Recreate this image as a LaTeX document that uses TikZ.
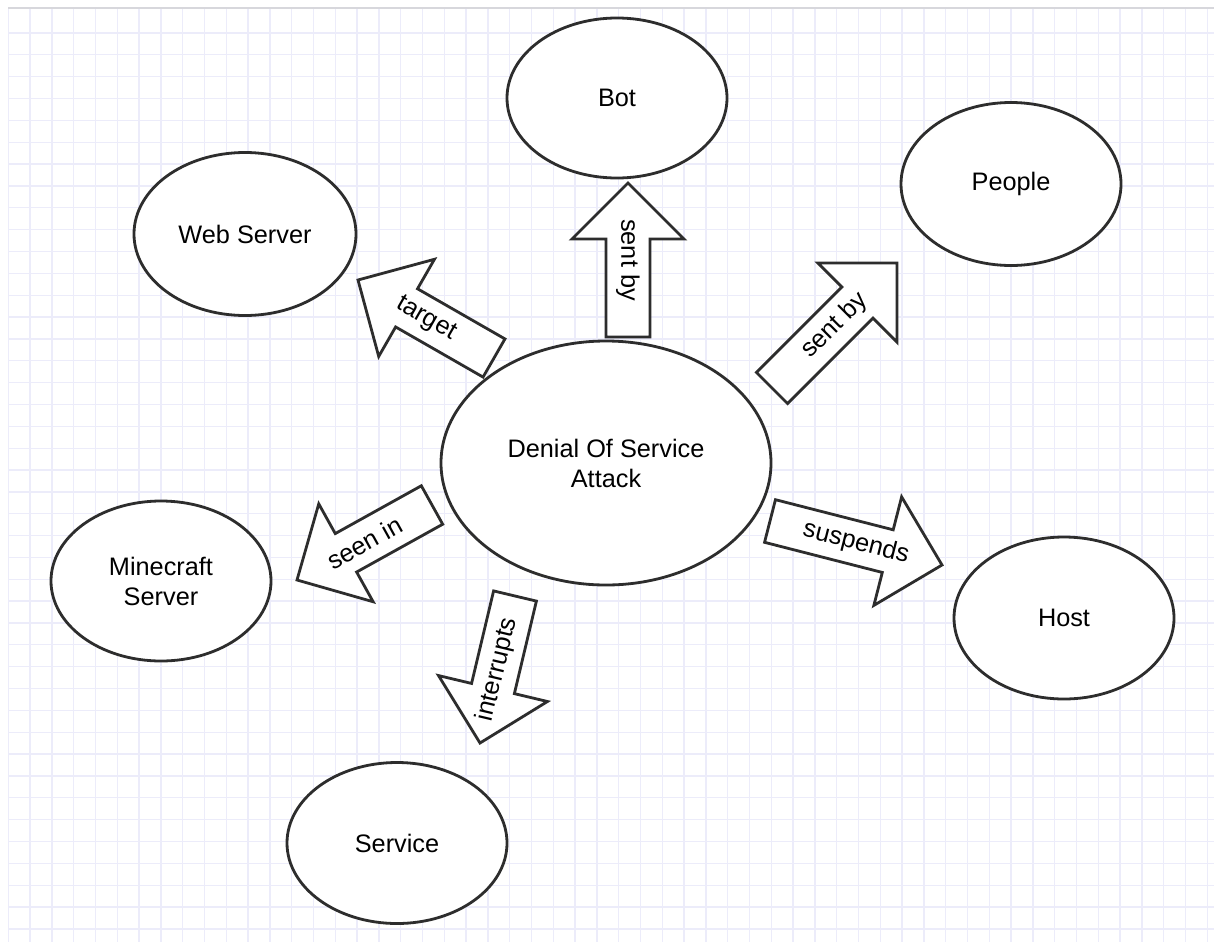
\documentclass[tikz,border=0pt]{standalone}
\usepackage{fontspec}
\setmainfont{Liberation Sans}
\usetikzlibrary{shapes.geometric,calc}

\definecolor{gridc}{RGB}{236,236,250}
\definecolor{framec}{RGB}{215,215,220}
\definecolor{inkc}{RGB}{45,45,45}

% Block arrow from tail #1 to tip #2, label #3 turned by #4 degrees
\newcommand{\blockarrow}[4]{%
  \coordinate (hb) at ($(#2)!56pt!(#1)$);
  \draw[barrow]
    ($(#1)!22pt!90:(#2)$) -- ($(hb)!22pt!90:(#2)$) -- ($(hb)!56pt!90:(#2)$)
    -- (#2)
    -- ($(hb)!56pt!-90:(#2)$) -- ($(hb)!22pt!-90:(#2)$) -- ($(#1)!22pt!-90:(#2)$)
    -- cycle;
  \node[lbl, rotate=#4] at ($(#1)!0.5!(#2)$) {#3};
}

\tikzset{
  gridline/.style={draw=gridc, line width=1.3pt},
  entity/.style={ellipse, draw=inkc, line width=2.8pt, fill=white, inner sep=0pt,
    align=center, font=\fontsize{25.3}{30}\selectfont},
  barrow/.style={draw=inkc, line width=2.8pt, fill=white, line join=miter},
  lbl/.style={inner sep=0pt, font=\fontsize{25.3}{30}\selectfont},
}

\begin{document}
\begin{tikzpicture}[x=1pt,y=-1pt]
\useasboundingbox (0,0) rectangle (1214,942);
\fill[white] (0,0) rectangle (1214,942);

% squared paper
\foreach \i in {0,...,55}
  \draw[gridline] ({8.3+21.8*\i},8) -- ({8.3+21.8*\i},942);
\foreach \j in {0,...,41}
  \draw[gridline] (8,{33+21.85*\j}) -- (1214,{33+21.85*\j});
\draw[draw=framec, line width=1.5pt] (8,8) -- (1214,8);

% concepts
\node[entity, minimum width=330pt, minimum height=244pt] (dos) at (606,463) {Denial Of Service\\Attack};
\node[entity, minimum width=220pt, minimum height=160pt] (bot) at (617,98) {Bot};
\node[entity, minimum width=220pt, minimum height=163pt] (people) at (1011,184) {People};
\node[entity, minimum width=222pt, minimum height=163pt] (web) at (245,234) {Web Server};
\node[entity, minimum width=220pt, minimum height=160pt] (mc) at (161,581) {Minecraft\\Server};
\node[entity, minimum width=220pt, minimum height=162pt] (host) at (1064,618) {Host};
\node[entity, minimum width=220pt, minimum height=161pt] (service) at (397,843) {Service};

% arrow ends
\coordinate (botS) at (628,337);  \coordinate (botE) at (628,183);
\coordinate (webS) at (494,358);  \coordinate (webE) at (358,280);
\coordinate (pplS) at (772,388);  \coordinate (pplE) at (897,263);
\coordinate (mcS) at (432,505);   \coordinate (mcE) at (297,580);
\coordinate (hostS) at (770,521); \coordinate (hostE) at (942,565);
\coordinate (srvS) at (515,596);  \coordinate (srvE) at (480,743);

% relations
\blockarrow{botS}{botE}{sent by}{-90}
\blockarrow{webS}{webE}{target}{-29.8}
\blockarrow{pplS}{pplE}{sent by}{45}
\blockarrow{mcS}{mcE}{seen in}{29}
\blockarrow{hostS}{hostE}{suspends}{-14.3}
\blockarrow{srvS}{srvE}{interrupts}{76.6}
\end{tikzpicture}
\end{document}
